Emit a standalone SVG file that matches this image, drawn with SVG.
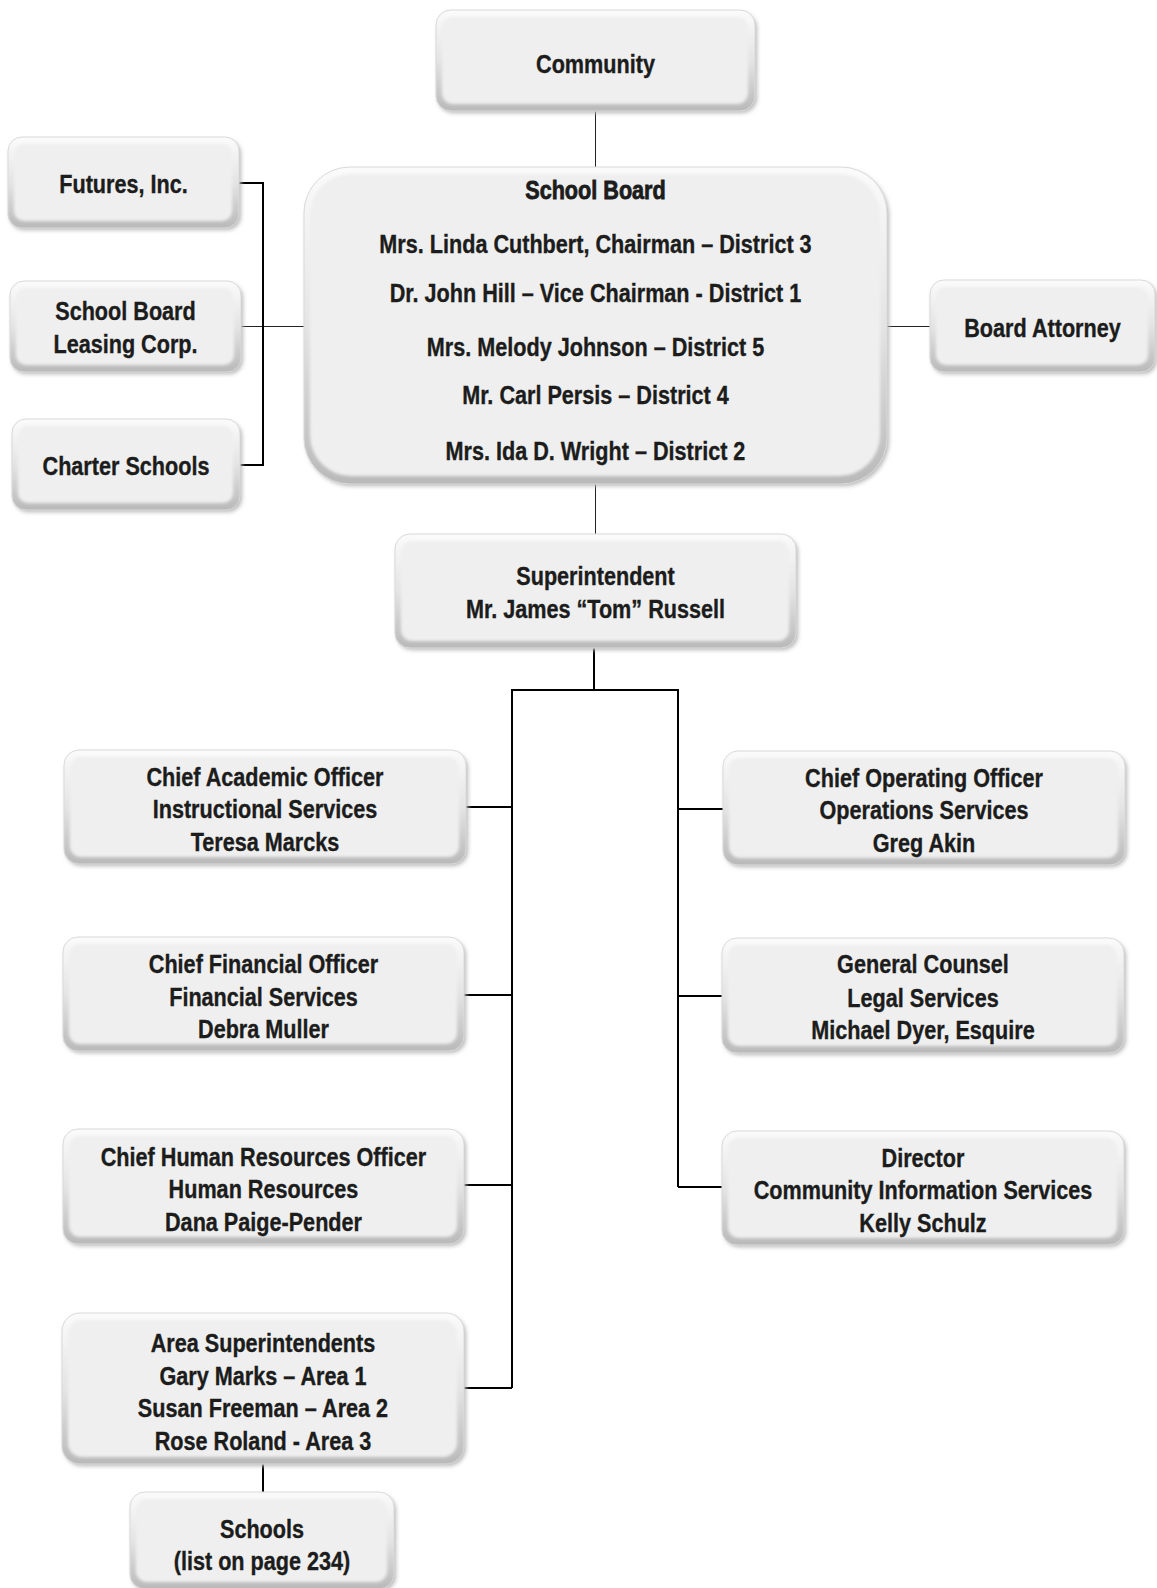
<svg xmlns="http://www.w3.org/2000/svg" width="1157" height="1588" viewBox="0 0 1157 1588">
  <defs>
    <linearGradient id="rimGrad" x1="0" y1="0" x2="0" y2="1">
      <stop offset="0" stop-color="#fbfbfb"/>
      <stop offset="0.5" stop-color="#e4e4e4"/>
      <stop offset="1" stop-color="#b9b9b9"/>
    </linearGradient>
    <filter id="soft" x="-5%" y="-5%" width="110%" height="110%">
      <feGaussianBlur stdDeviation="1.6"/>
    </filter>
    <filter id="shadow" x="-5%" y="-5%" width="112%" height="115%">
      <feGaussianBlur stdDeviation="2"/>
    </filter>
  </defs>
  <style>
    .sh { fill: #b8b8b8; filter: url(#shadow); }
    .rim { fill: url(#rimGrad); stroke: #dadada; stroke-width: 1; }
    .face { fill: #eeefee; filter: url(#soft); }
    .t { font-family: "Liberation Sans", Arial, sans-serif; font-weight: bold; font-size: 25px; fill: #1c1c1c; text-anchor: middle;
         stroke: #1c1c1c; stroke-width: 0.35;
         transform-box: fill-box; transform-origin: center; transform: scaleX(0.865); }
    .title { stroke-width: 0.8; }
    .thin { stroke: #222; stroke-width: 1; fill: none; }
    .thick { stroke: #000; stroke-width: 2; fill: none; }
  </style>
  <rect width="1157" height="1588" fill="#ffffff"/>

  <!-- connectors -->
  <g id="connectors">
    <path class="thin" d="M595.5 111 V167"/>
    <path class="thin" d="M595.5 484 V534"/>
    <path class="thin" d="M241 326.5 H304"/>
    <path class="thin" d="M887 326.5 H930"/>
    <path class="thick" d="M239 183 H263 V465 H240"/>
    <path class="thick" d="M594 648 V690"/>
    <path class="thick" d="M512 1388 V690 H678 V1187"/>
    <path class="thick" d="M466 807 H512"/>
    <path class="thick" d="M464 995 H512"/>
    <path class="thick" d="M464 1185 H512"/>
    <path class="thick" d="M464 1388 H512"/>
    <path class="thick" d="M678 809 H723"/>
    <path class="thick" d="M678 996 H722"/>
    <path class="thick" d="M678 1187 H722"/>
    <path class="thick" d="M263 1464 V1492"/>
  </g>

  <!-- Community -->
  <g id="community">
    <rect class="sh" x="438" y="13" width="319" height="100" rx="15"/>
    <rect class="rim" x="436" y="10" width="319" height="101" rx="15"/>
    <rect class="face" x="442" y="17" width="306" height="87" rx="11"/>
    <text class="t" x="595.5" y="73">Community</text>
  </g>

  <!-- School Board -->
  <g id="school-board">
    <rect class="sh" x="306" y="170" width="583" height="316" rx="46"/>
    <rect class="rim" x="304" y="167" width="583" height="317" rx="46"/>
    <rect class="face" x="310" y="174" width="570" height="302" rx="41"/>
    <text class="t title" x="595.5" y="199">School Board</text>
    <text class="t" x="595.5" y="253">Mrs. Linda Cuthbert, Chairman – District 3</text>
    <text class="t" x="595.5" y="302">Dr. John Hill – Vice Chairman - District 1</text>
    <text class="t" x="595.5" y="356">Mrs. Melody Johnson – District 5</text>
    <text class="t" x="595.5" y="404">Mr. Carl Persis – District 4</text>
    <text class="t" x="595.5" y="460">Mrs. Ida D. Wright – District 2</text>
  </g>

  <!-- Futures, Inc. -->
  <g id="futures">
    <rect class="sh" x="10" y="140" width="231" height="90" rx="14"/>
    <rect class="rim" x="8" y="137" width="231" height="91" rx="14"/>
    <rect class="face" x="14" y="144" width="218" height="77" rx="10"/>
    <text class="t" x="123.5" y="193">Futures, Inc.</text>
  </g>

  <!-- School Board Leasing Corp. -->
  <g id="leasing">
    <rect class="sh" x="12" y="284" width="231" height="90" rx="14"/>
    <rect class="rim" x="10" y="281" width="231" height="91" rx="14"/>
    <rect class="face" x="16" y="288" width="218" height="77" rx="10"/>
    <text class="t" x="125.5" y="320">School Board</text>
    <text class="t" x="125.5" y="353">Leasing Corp.</text>
  </g>

  <!-- Charter Schools -->
  <g id="charter">
    <rect class="sh" x="14" y="422" width="228" height="90" rx="14"/>
    <rect class="rim" x="12" y="419" width="228" height="91" rx="14"/>
    <rect class="face" x="18" y="426" width="215" height="77" rx="10"/>
    <text class="t" x="126" y="475">Charter Schools</text>
  </g>

  <!-- Board Attorney -->
  <g id="attorney">
    <rect class="sh" x="932" y="283" width="225" height="91" rx="14"/>
    <rect class="rim" x="930" y="280" width="225" height="92" rx="14"/>
    <rect class="face" x="936" y="287" width="212" height="78" rx="10"/>
    <text class="t" x="1042.5" y="337">Board Attorney</text>
  </g>

  <!-- Superintendent -->
  <g id="superintendent">
    <rect class="sh" x="397" y="537" width="401" height="113" rx="15"/>
    <rect class="rim" x="395" y="534" width="401" height="114" rx="15"/>
    <rect class="face" x="401" y="541" width="388" height="100" rx="11"/>
    <text class="t" x="595.5" y="585">Superintendent</text>
    <text class="t" x="595.5" y="618">Mr. James “Tom” Russell</text>
  </g>

  <!-- Chief Academic Officer -->
  <g id="cao">
    <rect class="sh" x="66" y="753" width="402" height="113" rx="15"/>
    <rect class="rim" x="64" y="750" width="402" height="114" rx="15"/>
    <rect class="face" x="70" y="757" width="389" height="100" rx="11"/>
    <text class="t" x="265" y="786">Chief Academic Officer</text>
    <text class="t" x="265" y="818">Instructional Services</text>
    <text class="t" x="265" y="851">Teresa Marcks</text>
  </g>

  <!-- Chief Financial Officer -->
  <g id="cfo">
    <rect class="sh" x="65" y="940" width="401" height="113" rx="15"/>
    <rect class="rim" x="63" y="937" width="401" height="114" rx="15"/>
    <rect class="face" x="69" y="944" width="388" height="100" rx="11"/>
    <text class="t" x="263.5" y="973">Chief Financial Officer</text>
    <text class="t" x="263.5" y="1006">Financial Services</text>
    <text class="t" x="263.5" y="1038">Debra Muller</text>
  </g>

  <!-- Chief Human Resources Officer -->
  <g id="chro">
    <rect class="sh" x="65" y="1132" width="401" height="114" rx="15"/>
    <rect class="rim" x="63" y="1129" width="401" height="115" rx="15"/>
    <rect class="face" x="69" y="1136" width="388" height="101" rx="11"/>
    <text class="t" x="263.5" y="1166">Chief Human Resources Officer</text>
    <text class="t" x="263.5" y="1198">Human Resources</text>
    <text class="t" x="263.5" y="1231">Dana Paige-Pender</text>
  </g>

  <!-- Area Superintendents -->
  <g id="area">
    <rect class="sh" x="64" y="1316" width="402" height="150" rx="18"/>
    <rect class="rim" x="62" y="1313" width="402" height="151" rx="18"/>
    <rect class="face" x="68" y="1320" width="389" height="137" rx="14"/>
    <text class="t" x="263" y="1352">Area Superintendents</text>
    <text class="t" x="263" y="1385">Gary Marks – Area 1</text>
    <text class="t" x="263" y="1417">Susan Freeman – Area 2</text>
    <text class="t" x="263" y="1450">Rose Roland - Area 3</text>
  </g>

  <!-- Schools -->
  <g id="schools">
    <rect class="sh" x="132" y="1495" width="264" height="96" rx="15"/>
    <rect class="rim" x="130" y="1492" width="264" height="97" rx="15"/>
    <rect class="face" x="136" y="1499" width="251" height="83" rx="11"/>
    <text class="t" x="262" y="1538">Schools</text>
    <text class="t" x="262" y="1570">(list on page 234)</text>
  </g>

  <!-- Chief Operating Officer -->
  <g id="coo">
    <rect class="sh" x="725" y="754" width="402" height="113" rx="15"/>
    <rect class="rim" x="723" y="751" width="402" height="114" rx="15"/>
    <rect class="face" x="729" y="758" width="389" height="100" rx="11"/>
    <text class="t" x="924" y="787">Chief Operating Officer</text>
    <text class="t" x="924" y="819">Operations Services</text>
    <text class="t" x="924" y="852">Greg Akin</text>
  </g>

  <!-- General Counsel -->
  <g id="counsel">
    <rect class="sh" x="724" y="941" width="402" height="114" rx="15"/>
    <rect class="rim" x="722" y="938" width="402" height="115" rx="15"/>
    <rect class="face" x="728" y="945" width="389" height="101" rx="11"/>
    <text class="t" x="923" y="973">General Counsel</text>
    <text class="t" x="923" y="1007">Legal Services</text>
    <text class="t" x="923" y="1039">Michael Dyer, Esquire</text>
  </g>

  <!-- Director, Community Information Services -->
  <g id="director">
    <rect class="sh" x="724" y="1134" width="402" height="113" rx="15"/>
    <rect class="rim" x="722" y="1131" width="402" height="114" rx="15"/>
    <rect class="face" x="728" y="1138" width="389" height="100" rx="11"/>
    <text class="t" x="923" y="1167">Director</text>
    <text class="t" x="923" y="1199">Community Information Services</text>
    <text class="t" x="923" y="1232">Kelly Schulz</text>
  </g>
</svg>
